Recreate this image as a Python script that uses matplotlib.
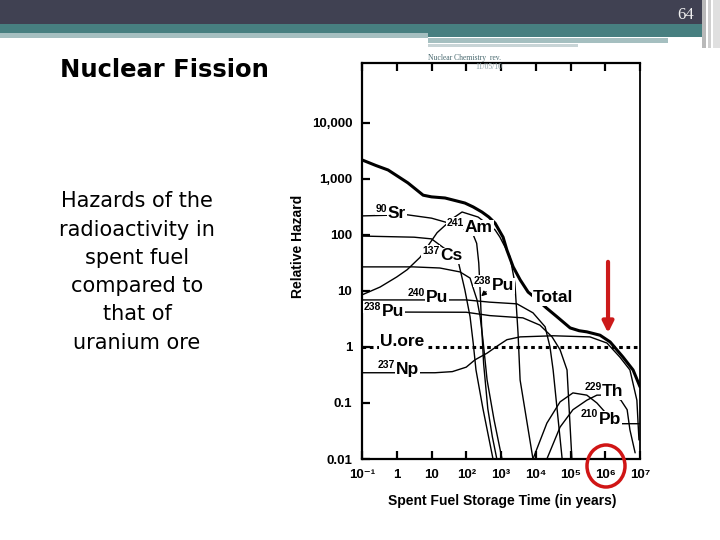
import numpy as np
import matplotlib
matplotlib.use("Agg")
import matplotlib.pyplot as plt
from matplotlib.patches import Rectangle, Ellipse

# curves, as (log10 years, log10 relative hazard)
total_logt = [-1.0, -0.6, -0.25, 0.32, 0.76, 1.0, 1.39, 1.96, 2.2, 2.45, 2.65, 2.83, 3.06, 3.17,
              3.35, 3.55, 3.78, 4.0, 4.3, 4.61, 4.99, 5.25, 5.47, 5.85, 6.14, 6.51, 6.8, 7.0]
total_logh = [3.34, 3.24, 3.16, 2.93, 2.71, 2.68, 2.66, 2.57, 2.50, 2.41, 2.32, 2.21, 1.96, 1.73,
              1.43, 1.20, 0.98, 0.87, 0.70, 0.54, 0.34, 0.29, 0.27, 0.21, 0.09, -0.18, -0.41, -0.71]

sr_logt = [-1.0, 0.3, 1.0, 1.68, 2.17, 2.30, 2.36, 2.40, 2.44, 2.50, 2.62, 2.75, 2.88]
sr_logh = [2.34, 2.36, 2.30, 2.18, 2.05, 1.85, 1.50, 1.00, 0.40, -0.30, -1.10, -1.60, -2.0]

cs_logt = [-1.0, 0.5, 1.0, 1.24, 1.55, 1.78, 1.96, 2.11, 2.20, 2.28, 2.48, 2.77]
cs_logh = [1.98, 1.96, 1.93, 1.82, 1.68, 1.50, 1.02, 0.54, 0.07, -0.41, -1.10, -2.0]

pu238_logt = [-1.0, 0.47, 1.24, 1.82, 2.11, 2.19, 2.31, 2.40, 2.48, 2.60, 2.80, 3.03]
pu238_logh = [1.43, 1.43, 1.41, 1.34, 1.23, 1.07, 0.84, 0.54, 0.13, -0.59, -1.30, -2.0]

am_logt = [-1.0, -0.48, 0.0, 0.3, 0.67, 1.16, 1.62, 1.88, 2.34, 2.83, 2.97, 3.26, 3.40, 3.49, 3.55, 3.92]
am_logh = [0.93, 1.07, 1.25, 1.38, 1.60, 2.04, 2.30, 2.41, 2.32, 2.09, 1.96, 1.61, 1.14, 0.25, -0.59, -2.0]

pu240_logt = [-1.0, 2.0, 2.68, 3.46, 3.92, 4.27, 4.41, 4.50, 4.76]
pu240_logh = [0.84, 0.84, 0.80, 0.77, 0.61, 0.36, 0.0, -0.41, -2.0]

pu239_logt = [-1.0, 2.0, 2.68, 3.63, 4.12, 4.47, 4.70, 4.90, 5.04]
pu239_logh = [0.625, 0.62, 0.56, 0.52, 0.39, 0.18, -0.05, -0.41, -2.0]

np_logt = [-1.0, 1.1, 1.6, 2.0, 2.25, 2.6, 2.9, 3.17, 3.55, 4.5, 5.56, 6.05, 6.42, 6.71, 6.91, 6.97]
np_logh = [-0.46, -0.46, -0.44, -0.36, -0.23, -0.11, 0.02, 0.13, 0.18, 0.20, 0.18, 0.07, -0.18, -0.41, -0.95, -1.66]

th_logt = [4.32, 4.70, 5.07, 5.47, 5.76, 5.94, 6.2, 6.45, 6.63, 6.71, 6.86]
th_logh = [-2.0, -1.43, -1.12, -0.95, -0.86, -0.86, -0.86, -0.95, -1.12, -1.48, -1.89]

pb_logt = [3.92, 4.32, 4.70, 5.07, 5.47, 5.76, 5.99, 6.2, 6.42, 7.0]
pb_logh = [-2.0, -1.36, -0.98, -0.82, -0.86, -1.0, -1.16, -1.30, -1.37, -1.37]

uore_level = 1.0

# curve labels: mass number, symbol, log10 t where symbol starts, log10 hazard
iso_mass = ["90", "241", "137", "238", "240", "238", "237", "229", "210"]
iso_name = ["Sr", "Am", "Cs", "Pu", "Pu", "Pu", "Np", "Th", "Pb"]
iso_logt = [-0.25, 1.96, 1.245, 2.74, 0.84, -0.42, -0.02, 5.91, 5.82]
iso_logh = [2.375, 2.125, 1.625, 1.09, 0.875, 0.625, -0.41, -0.80, -1.29]

x_ticks = [0.1, 1, 10, 100, 1e3, 1e4, 1e5, 1e6, 1e7]
x_labels = ["10⁻¹", "1", "10", "10²", "10³", "10⁴", "10⁵", "10⁶", "10⁷"]
y_ticks = [0.01, 0.1, 1, 10, 100, 1000, 10000]
y_labels = ["0.01", "0.1", "1", "10", "100", "1,000", "10,000"]

W, H = 720, 540
fig = plt.figure(figsize=(7.2, 5.4), dpi=100)
fig.patch.set_facecolor("white")


def rect(x, y, w, h, color):
    fig.add_artist(Rectangle((x / W, 1 - (y + h) / H), w / W, h / H,
                             transform=fig.transFigure, color=color, lw=0, zorder=0))


# slide header bands
rect(0, 0, 702, 24, "#404152")
rect(0, 24, 706, 9, "#477f80")
rect(0, 33, 428, 5, "#a5bfc0")
rect(428, 33, 278, 4, "#477f80")
rect(428, 38, 240, 5, "#a5bfc0")
rect(428, 44, 150, 3, "#c8d4d6")
rect(702, 0, 4, 48, "#b9b9b9")
rect(708, 0, 3, 48, "#cfcfcf")
rect(713, 0, 7, 48, "#e0e0e0")
fig.text(686 / W, 1 - 15 / H, "64", color="#f0f0f0", fontsize=12,
         family="Liberation Serif", ha="center", va="center")

fig.text(164 / W, 1 - 70 / H, "Nuclear Fission", fontsize=17.5, fontweight="bold",
         family="DejaVu Sans", ha="center", va="center")
fig.text(137 / W, 1 - 272 / H,
         "Hazards of the\nradioactivity in\nspent fuel\ncompared to\nthat of\nuranium ore",
         fontsize=15, family="DejaVu Sans", ha="center", va="center", linespacing=1.52)
fig.text(428 / W, 1 - 58 / H, "Nuclear Chemistry  rev.", fontsize=5.5,
         family="Liberation Serif", color="#4a6a70", ha="left", va="center")
fig.text(475 / W, 1 - 67 / H, "11/05/10", fontsize=5.5,
         family="Liberation Serif", color="#8aa0a6", ha="left", va="center")

ax = fig.add_axes([362 / W, 1 - 459 / H, 278 / W, 396 / H])
ax.set_xscale("log")
ax.set_yscale("log")
ax.set_xlim(0.1, 1e7)
ax.set_ylim(0.01, 10 ** 5.07)

lab_font = ["Liberation Sans", "DejaVu Sans"]


def curve(lt, lh, lw=1.0):
    ax.plot(10 ** np.array(lt), 10 ** np.array(lh), color="black", lw=lw,
            solid_capstyle="round", clip_on=True, zorder=2)


for lt, lh in [(sr_logt, sr_logh), (cs_logt, cs_logh), (pu238_logt, pu238_logh),
               (am_logt, am_logh), (pu240_logt, pu240_logh), (pu239_logt, pu239_logh),
               (np_logt, np_logh), (th_logt, th_logh), (pb_logt, pb_logh)]:
    curve(lt, lh, 1.0)
curve(total_logt, total_logh, 2.2)
ax.axhline(uore_level, color="black", lw=2.2, ls=(0, (1.2, 1.2)), zorder=2)

bb = dict(facecolor="white", edgecolor="none", pad=0.5)
for m, n, lx, ly in zip(iso_mass, iso_name, iso_logt, iso_logh):
    ax.text(10 ** lx, 10 ** ly, n, fontsize=12.5, fontweight="bold", family=lab_font,
            ha="left", va="center", bbox=bb, zorder=3)
    ax.annotate(m, (10 ** lx, 10 ** ly), xytext=(-0.5, 3.5), textcoords="offset points",
                fontsize=7.5, fontweight="bold", family=lab_font, ha="right", va="center",
                bbox=bb, zorder=3)
ax.text(10 ** 3.92, 10 ** 0.875, "Total", fontsize=12.5, fontweight="bold", family=lab_font,
        ha="left", va="center", bbox=bb, zorder=3)
ax.text(10 ** -0.48, 10 ** 0.09, "U.ore", fontsize=12.5, fontweight="bold", family=lab_font,
        ha="left", va="center", bbox=bb, zorder=3)

ax.annotate("", xy=(10 ** 2.37, 10 ** 0.87), xytext=(10 ** 2.63, 10 ** 1.02),
            arrowprops=dict(arrowstyle="-|>", color="black", lw=1.0, mutation_scale=7),
            zorder=4)

# red arrow marking where total hazard meets uranium ore
ax.annotate("", xy=(10 ** 6.08, 10 ** 0.25), xytext=(10 ** 6.08, 10 ** 1.52),
            arrowprops=dict(arrowstyle="-|>", color="#cc1a1a", lw=3,
                            mutation_scale=16, shrinkA=0, shrinkB=0), zorder=5)

ax.set_xticks(x_ticks)
ax.set_xticklabels(x_labels)
ax.set_yticks(y_ticks)
ax.set_yticklabels(y_labels)
ax.minorticks_off()
ax.tick_params(axis="both", direction="in", length=6, width=1.6, top=True, right=False,
               labelsize=9.5, pad=7)
for lab in ax.get_xticklabels() + ax.get_yticklabels():
    lab.set_fontweight("bold")
    lab.set_family(lab_font)
for s in ax.spines.values():
    s.set_linewidth(1.6)
ax.spines["right"].set_linewidth(1.3)

fig.text(298 / W, 1 - 246 / H, "Relative Hazard", rotation=90, fontsize=10,
         fontweight="bold", family=lab_font, ha="center", va="center")
fig.text(502 / W, 1 - 501 / H, "Spent Fuel Storage Time (in years)", fontsize=10,
         fontweight="bold", family=lab_font, ha="center", va="center")

fig.add_artist(Ellipse((606 / W, 1 - 466 / H), 38 / W, 42 / H, transform=fig.transFigure,
                       fill=False, edgecolor="#d01515", lw=2.5, zorder=6))

fig.savefig("out.png", dpi=100)
